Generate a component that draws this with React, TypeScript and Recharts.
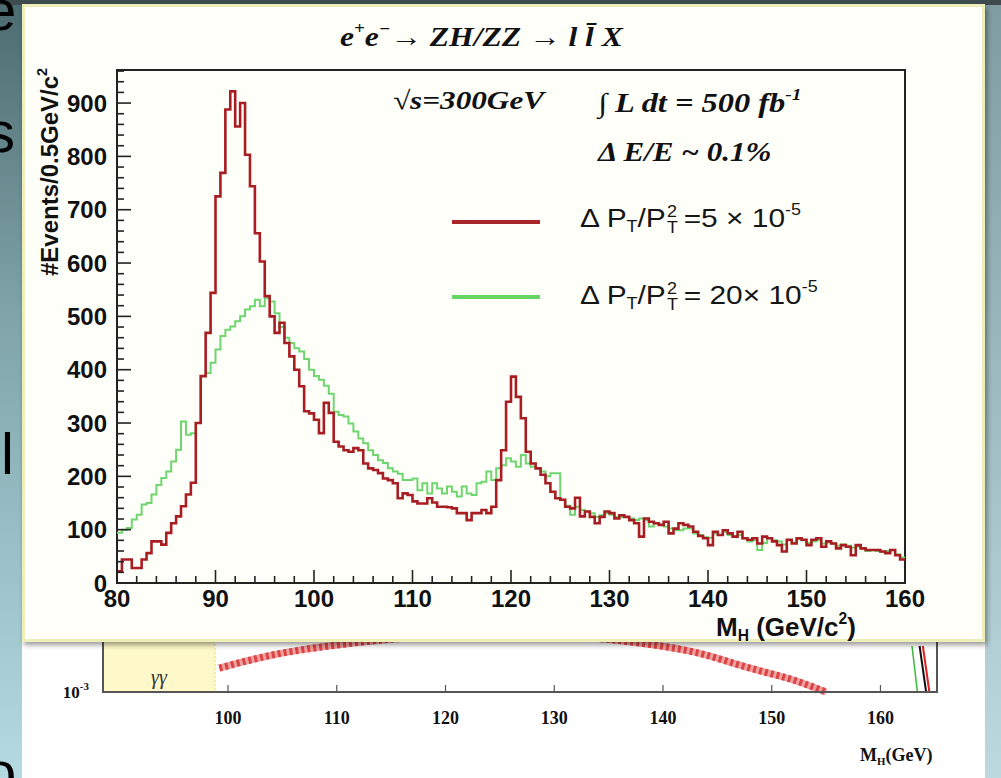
import React from "react"
import { LineChart, Line, XAxis, YAxis, ReferenceArea } from "recharts"

// M_H spectrum, 0.5 GeV bins from 80 to 160 GeV/c^2
const binLow = 80
const binWidth = 0.5

// dP_T/P_T^2 = 5e-5
const redCounts = [
  22, 44, 44, 28, 28, 44, 56, 78, 78, 72,
  94, 112, 125, 144, 166, 188, 300, 388, 469, 544,
  725, 769, 888, 922, 856, 900, 803, 744, 656, 603,
  538, 500, 469, 488, 450, 425, 400, 369, 322, 318,
  306, 281, 338, 319, 265, 256, 249, 246, 253, 249,
  224, 215, 212, 206, 196, 193, 187, 159, 168, 165,
  153, 149, 149, 159, 151, 143, 143, 142, 140, 131,
  131, 118, 131, 131, 137, 131, 143, 193, 249, 340,
  387, 349, 309, 246, 224, 215, 203, 187, 171, 159,
  156, 143, 140, 160, 125, 134, 124, 112, 124, 134,
  131, 121, 127, 124, 118, 112, 87, 121, 115, 112,
  109, 115, 93, 102, 112, 109, 106, 96, 88, 84,
  71, 96, 90, 99, 93, 87, 96, 84, 81, 84,
  74, 87, 84, 78, 71, 59, 81, 74, 84, 81,
  71, 81, 84, 68, 78, 74, 65, 71, 68, 52,
  71, 65, 62, 62, 62, 59, 56, 62, 52, 44,
]

// dP_T/P_T^2 = 20e-5
const greenCounts = [
  94, 100, 103, 119, 128, 147, 150, 166, 184, 197,
  209, 228, 250, 303, 278, 281, 300, 388, 394, 413,
  438, 463, 475, 481, 491, 500, 513, 519, 531, 519,
  534, 528, 506, 480, 460, 450, 440, 434, 420, 400,
  388, 381, 370, 355, 321, 315, 312, 299, 284, 271,
  262, 249, 240, 230, 225, 215, 209, 205, 193, 193,
  196, 174, 187, 168, 187, 177, 168, 181, 171, 162,
  181, 168, 165, 187, 190, 209, 193, 215, 221, 234,
  228, 218, 240, 224, 218, 215, 209, 200, 206, 206,
  156, 145, 128, 143, 137, 134, 131, 124, 127, 131,
  128, 124, 124, 124, 121, 118, 121, 118, 106, 112,
  109, 106, 102, 99, 99, 102, 102, 93, 90, 86,
  85, 93, 90, 96, 90, 87, 90, 84, 78, 80,
  62, 75, 84, 80, 78, 72, 80, 76, 82, 80,
  75, 78, 80, 74, 76, 74, 70, 72, 70, 66,
  68, 64, 60, 62, 60, 58, 60, 62, 54, 48,
]

const xLabels = [80, 90, 100, 110, 120, 130, 140, 150, 160]
const yLabels = [0, 100, 200, 300, 400, 500, 600, 700, 800, 900]
const yMax = 962
const xTicks = Array.from({ length: 41 }, (_, i) => 80 + i * 2)
const yTicks = Array.from({ length: 49 }, (_, i) => i * 20)

// lower (partly hidden) plot behind the panel
const lowerTicks = [100, 110, 120, 130, 140, 150, 160]
const arcMass = [99.2, 104, 110, 120, 130, 138, 143, 148, 152, 155]
const arcLevel = [0.26, 0.4, 0.51, 0.6, 0.6, 0.53, 0.43, 0.26, 0.13, 0]
const edgeGreen = [{ m: 162.9, v: 0.5 }, { m: 163.4, v: 0 }]
const edgeBlack = [{ m: 163.6, v: 0.5 }, { m: 164.2, v: 0 }]
const edgeRed = [{ m: 163.9, v: 0.5 }, { m: 164.5, v: 0 }]

const histData = [
  ...redCounts.map((r, i) => ({ m: binLow + i * binWidth, red: r, green: greenCounts[i] })),
  {
    m: binLow + redCounts.length * binWidth,
    red: redCounts[redCounts.length - 1],
    green: greenCounts[greenCounts.length - 1],
  },
]
const arcData = arcMass.map((m, i) => ({ m, v: arcLevel[i] }))

const SANS = "'Liberation Sans', Arial, sans-serif"
const SERIF = "'Liberation Serif', 'Times New Roman', serif"
const Y_GAP = 12
const X_GAP = 6

const EventsTick = ({ x, y, payload }: any) => {
  const v = payload.value
  const axisX = x + Y_GAP
  return (
    <g>
      <line x1={axisX} x2={axisX + (v % 100 === 0 ? 14 : 7)} y1={y} y2={y} stroke="#222" strokeWidth={1.6} />
      {yLabels.includes(v) && (
        <text x={x + 2} y={y} dy="0.36em" textAnchor="end" fontFamily={SANS} fontWeight="bold" fontSize={24} fill="#111">
          {v}
        </text>
      )}
    </g>
  )
}

const MassTick = ({ x, y, payload }: any) => {
  const v = payload.value
  const axisY = y - X_GAP
  return (
    <g>
      <line x1={x} x2={x} y1={axisY} y2={axisY - (v % 10 === 0 ? 13 : 7)} stroke="#222" strokeWidth={1.6} />
      {xLabels.includes(v) && (
        <text x={x} y={y} dy="0.74em" textAnchor="middle" fontFamily={SANS} fontWeight="bold" fontSize={24} fill="#111">
          {v}
        </text>
      )}
    </g>
  )
}

const LowerTick = ({ x, y, payload }: any) => (
  <g>
    <line x1={x} x2={x} y1={y - 26} y2={y - 33} stroke="#555" strokeWidth={1.2} />
    <text x={x} y={y} dy="0.35em" textAnchor="middle" fontFamily={SERIF} fontWeight="bold" fontSize={18} fill="#111">
      {payload.value}
    </text>
  </g>
)

const DecadeTick = ({ x, y }: any) => (
  <text x={x} y={y} dy="0.35em" textAnchor="end" fontFamily={SERIF} fontWeight="bold" fontSize={17} fill="#111">
    10<tspan dy="-8" fontSize={11}>-3</tspan>
  </text>
)

const Sup = ({ children }: any) => (
  <span style={{ fontSize: "0.6em", position: "relative", top: "-0.75em" }}>{children}</span>
)
const Sub = ({ children }: any) => (
  <span style={{ fontSize: "0.6em", position: "relative", top: "0.35em" }}>{children}</span>
)
const Stack = ({ top, bottom }: any) => (
  <span
    style={{
      display: "inline-flex",
      flexDirection: "column",
      fontSize: "0.6em",
      lineHeight: 1.05,
      verticalAlign: "middle",
      marginLeft: 1,
      marginRight: 5,
    }}
  >
    <span>{top}</span>
    <span>{bottom}</span>
  </span>
)

const abs = (left: number, top: number, extra: any = {}) => ({
  position: "absolute" as const,
  left,
  top,
  whiteSpace: "nowrap" as const,
  ...extra,
})

export default function App() {
  const serifTxt = {
    fontFamily: SERIF,
    fontStyle: "italic",
    fontWeight: "bold",
    color: "#111",
    transformOrigin: "left center",
  }
  const sansTxt = {
    fontFamily: SANS,
    color: "#161616",
    fontSize: 26,
    transform: "scaleX(1.15)",
    transformOrigin: "left center",
  }

  return (
    <div style={{ position: "absolute", left: 0, top: 0, width: 1001, height: 778, overflow: "hidden", background: "#fff" }}>
      {/* slide background strips */}
      <div style={abs(0, 0, { width: 22, height: 778, background: "linear-gradient(#4c6b70, #7fa3a9 40%, #b4dbe2)" })} />
      <div style={abs(985, 0, { width: 16, height: 778, background: "linear-gradient(#7f9ca1, #bcd9df)" })} />
      <div style={abs(0, 0, { width: 1001, height: 5, background: "#3e4c50" })} />
      <div style={abs(-16, -24, { fontFamily: SANS, fontSize: 58, color: "#000" })}>e</div>
      <div style={abs(-14, 98, { fontFamily: SANS, fontSize: 58, color: "#000" })}>s</div>
      <div style={abs(1, 420, { fontFamily: SANS, fontSize: 58, color: "#000" })}>l</div>
      <div style={abs(-16, 738, { fontFamily: SANS, fontSize: 58, color: "#000" })}>o</div>

      {/* lower plot, mostly covered */}
      <div style={abs(0, 560, { zIndex: 1 })}>
        <LineChart width={1001} height={218} margin={{ top: 40, right: 64, bottom: 46, left: 43 }}>
          <XAxis
            type="number"
            dataKey="m"
            domain={[88.5, 165.2]}
            ticks={lowerTicks}
            interval={0}
            allowDataOverflow
            tickLine={false}
            tickSize={0}
            tickMargin={26}
            axisLine={{ stroke: "#555", strokeWidth: 2 }}
            tick={<LowerTick />}
            height={40}
          />
          <YAxis
            type="number"
            domain={[0, 1]}
            ticks={[0]}
            width={60}
            tickLine={false}
            axisLine={false}
            tickSize={0}
            tickMargin={14}
            tick={<DecadeTick />}
          />
          <ReferenceArea
            x1={88.5}
            x2={98.8}
            y1={0}
            y2={1}
            fill="#fff8c8"
            fillOpacity={1}
            stroke="#e6d870"
            strokeDasharray="2 2"
            label={{ value: "γγ", position: "insideBottom", offset: 8, fontFamily: SERIF, fontStyle: "italic", fontSize: 20, fill: "#333" }}
          />
          <ReferenceArea x1={88.5} x2={165.2} y1={0} y2={1} fill="none" stroke="#555" strokeWidth={2} />
          <Line data={arcData} dataKey="v" type="monotone" stroke="#f0a0a0" strokeWidth={7} dot={false} isAnimationActive={false} />
          <Line data={arcData} dataKey="v" type="monotone" stroke="#d94444" strokeWidth={7} strokeDasharray="3 3" dot={false} isAnimationActive={false} />
          <Line data={edgeGreen} dataKey="v" stroke="#3bb83b" strokeWidth={1.5} dot={false} isAnimationActive={false} />
          <Line data={edgeBlack} dataKey="v" stroke="#111" strokeWidth={2} dot={false} isAnimationActive={false} />
          <Line data={edgeRed} dataKey="v" stroke="#e02020" strokeWidth={2} dot={false} isAnimationActive={false} />
        </LineChart>
        <div style={abs(860, 185, { fontFamily: SERIF, fontWeight: "bold", fontSize: 18, color: "#111" })}>
          M<Sub>H</Sub>(GeV)
        </div>
      </div>

      {/* the pasted panel */}
      <div
        style={abs(22, 4, {
          width: 963,
          height: 638,
          boxSizing: "border-box",
          background: "#fffffa",
          border: "3px solid #eeeebb",
          boxShadow: "2px 3px 5px rgba(0,0,0,0.4)",
          zIndex: 2,
        })}
      />

      <div style={abs(0, 0, { zIndex: 3 })}>
        <LineChart width={1001} height={640} data={histData} margin={{ top: 70, right: 96, bottom: 17, left: 57 }}>
          <XAxis
            type="number"
            dataKey="m"
            domain={[80, 160]}
            ticks={xTicks}
            interval={0}
            allowDataOverflow
            tickLine={false}
            tickSize={0}
            tickMargin={X_GAP}
            axisLine={false}
            tick={<MassTick />}
            height={40}
          />
          <YAxis
            type="number"
            domain={[0, yMax]}
            ticks={yTicks}
            interval={0}
            allowDataOverflow
            width={60}
            tickLine={false}
            tickSize={0}
            tickMargin={Y_GAP}
            axisLine={false}
            tick={<EventsTick />}
          />
          <ReferenceArea x1={80} x2={160} y1={0} y2={yMax} fill="none" stroke="#222" strokeWidth={2} />
          <Line type="stepAfter" dataKey="green" stroke="#6fd66f" strokeWidth={2} dot={false} isAnimationActive={false} />
          <Line type="stepAfter" dataKey="red" stroke="#a81d22" strokeWidth={2.6} dot={false} isAnimationActive={false} />
        </LineChart>

        {/* title and axis titles */}
        <div style={abs(340, 22, { ...serifTxt, fontSize: 27, transform: "scaleX(1.17)" })}>
          e<Sup>+</Sup>e<Sup>−</Sup>→ ZH/ZZ → l l̄ X
        </div>
        <div
          style={abs(50, 172, {
            fontFamily: SANS,
            fontWeight: "bold",
            fontSize: 24,
            color: "#111",
            transform: "translate(-50%, -50%) rotate(-90deg)",
          })}
        >
          #Events/0.5GeV/c<Sup>2</Sup>
        </div>
        <div style={abs(716, 612, { fontFamily: SANS, fontWeight: "bold", fontSize: 26, color: "#111" })}>
          M<Sub>H</Sub> (GeV/c<Sup>2</Sup>)
        </div>

        {/* annotations */}
        <div style={abs(393, 86, { ...serifTxt, fontSize: 26, transform: "scaleX(1.2)" })}>√s=300GeV</div>
        <div style={abs(598, 88, { ...serifTxt, fontSize: 27, transform: "scaleX(1.2)" })}>
          ∫ L dt = 500 fb<Sup>-1</Sup>
        </div>
        <div style={abs(598, 137, { ...serifTxt, fontSize: 27, transform: "scaleX(1.15)" })}>Δ E/E ~ 0.1%</div>

        {/* legend */}
        <div style={abs(452, 220, { width: 88, height: 4, background: "#a8262a" })} />
        <div style={abs(452, 295, { width: 88, height: 4, background: "#66d566" })} />
        <div style={abs(580, 203, sansTxt)}>
          Δ P<Sub>T</Sub>/P<Stack top="2" bottom="T" />=5 × 10<Sup>-5</Sup>
        </div>
        <div style={abs(580, 280, sansTxt)}>
          Δ P<Sub>T</Sub>/P<Stack top="2" bottom="T" />= 20× 10<Sup>-5</Sup>
        </div>
      </div>
    </div>
  )
}
